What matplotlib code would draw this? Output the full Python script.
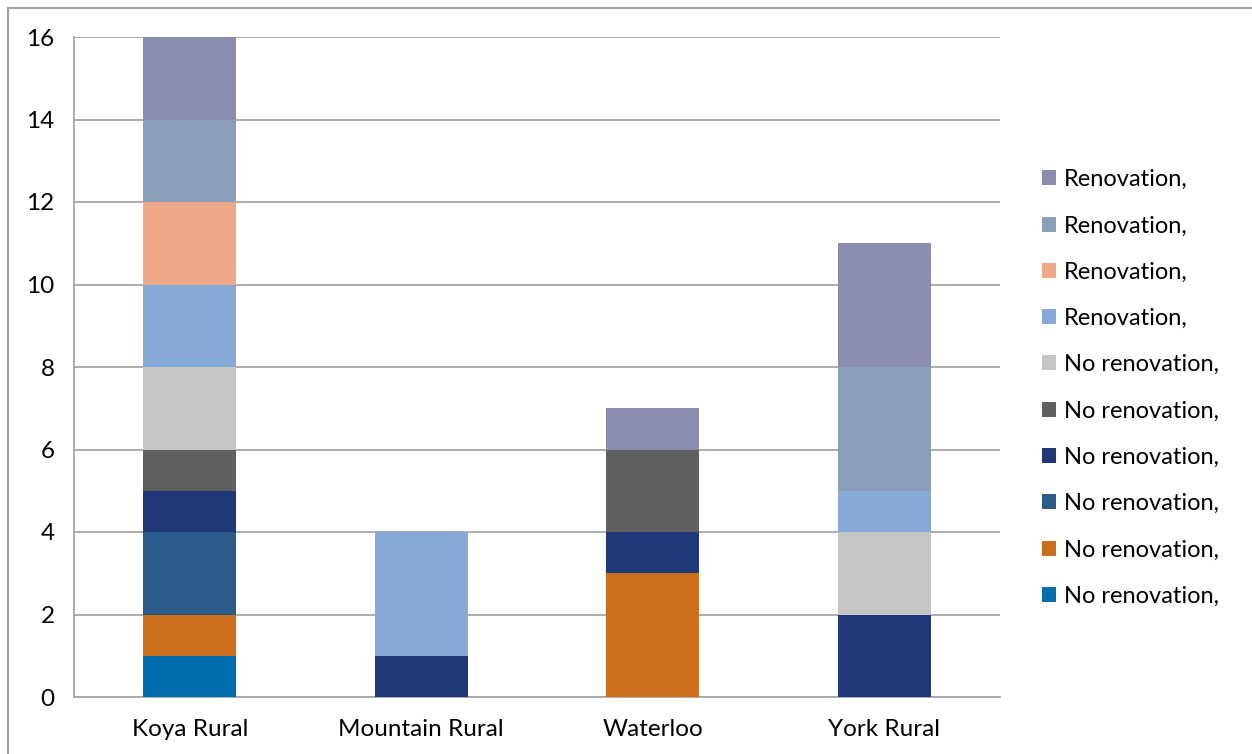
import matplotlib.pyplot as plt
from matplotlib.patches import Rectangle
import numpy as np

plt.rcParams['font.family'] = ['Lato', 'DejaVu Sans']

districts = ['Koya Rural', 'Mountain Rural', 'Waterloo', 'York Rural']

# stacked from the bottom up
series_labels = ['No renovation,', 'No renovation,', 'No renovation,',
                 'No renovation,', 'No renovation,', 'No renovation,',
                 'Renovation,', 'Renovation,', 'Renovation,', 'Renovation,']
series_values = [
    [1, 0, 0, 0],
    [1, 0, 3, 0],
    [2, 0, 0, 0],
    [1, 1, 1, 2],
    [1, 0, 2, 0],
    [2, 0, 0, 2],
    [2, 3, 0, 1],
    [2, 0, 0, 0],
    [2, 0, 0, 3],
    [2, 0, 1, 3],
]
series_colors = ['#006EAF', '#CC6F1A', '#2B5B88', '#1F387A', '#5F6062',
                 '#C5C5C5', '#87A9D6', '#EFA888', '#8B9EB9', '#8A8CB0']

fig = plt.figure(figsize=(12.52, 7.54), dpi=100)
ax = fig.add_axes([74 / 1252, 1 - 697 / 754, 926 / 1252, 660 / 754])

x = np.arange(len(districts))
bottom = np.zeros(len(districts))
handles = []
for vals, lab, col in zip(series_values, series_labels, series_colors):
    vals = np.array(vals, dtype=float)
    b = ax.bar(x, vals, width=0.4, bottom=bottom, color=col, label=lab,
               zorder=3, linewidth=0)
    handles.append(b)
    bottom += vals

ax.set_xlim(-0.5, len(districts) - 0.5)
ax.set_ylim(0, 16)
ax.set_yticks(range(0, 17, 2))
ax.set_xticks(x)
ax.set_xticklabels(districts, fontsize=17.5)
ax.tick_params(axis='y', labelsize=17.5, length=0, pad=14)
ax.tick_params(axis='x', length=0, pad=16)
ax.grid(axis='y', color='#A6A6A6', linewidth=1.3, zorder=0)
for s in ['top', 'right']:
    ax.spines[s].set_visible(False)
for s in ['left', 'bottom']:
    ax.spines[s].set_color('#A6A6A6')
    ax.spines[s].set_linewidth(1.3)

leg = fig.legend(handles[::-1], series_labels[::-1], loc='upper left',
                 bbox_to_anchor=(1021 / 1252, 1 - 148 / 754), frameon=False,
                 fontsize=17, handlelength=0.6, handleheight=0.6,
                 handletextpad=0.3, labelspacing=1.07)

# outer frame of the figure panel
fig.patches.append(Rectangle((8 / 1252, -0.05), 1.1, 1 - 8 / 754 + 0.05,
                             transform=fig.transFigure, fill=False,
                             edgecolor='#A0A0A0', linewidth=1.5))

fig.savefig('out.png', dpi=100)
